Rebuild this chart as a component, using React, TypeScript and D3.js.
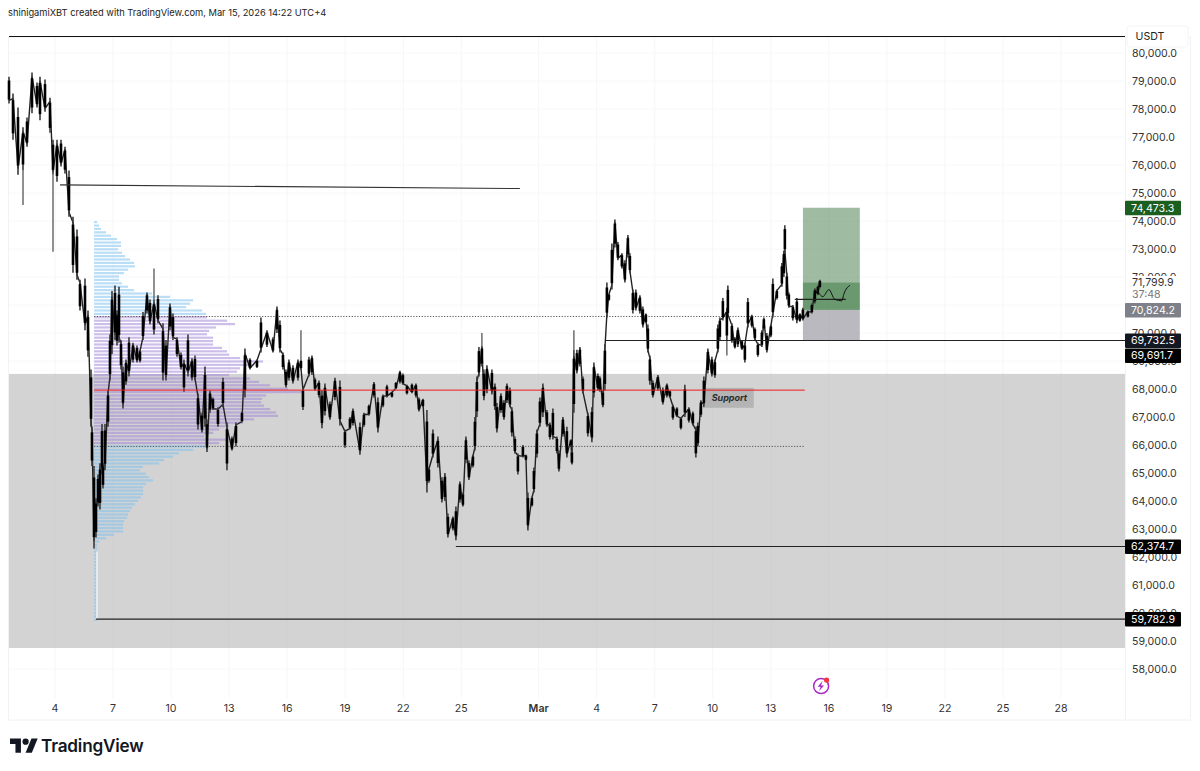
import React from "react";
import * as d3 from "d3";

// Prices are in thousands of USDT. Time is in days from Feb 4, 2026.
const priceTicks = [80,79,78,77,76,75,74,73,72,71,70,69,68,67,66,65,64,63,62,61,60,59,58];
const dayTicks = [0,3,6,9,12,15,18,21,25,28,31,34,37,40,43,46,49,52];
const dayLabels = ["4","7","10","13","16","19","22","25","Mar","4","7","10","13","16","19","22","25","28"];

const barsPerDay = 19.35;
const firstTickBar = 46;

const candleBars = [
  0,4,9,14,18,23,28,31,36,41,
  44,48,52,56,60,64,68,71,76,79,
  82,83,85,87,89,91,93,94,96,99,
  101,103,106,108,110,112,114,117,120,124,
  128,131,134,138,141,145,149,154,157,161,
  164,168,172,175,179,183,186,189,193,196,
  198,201,204,209,214,218,223,227,233,236,
  241,248,252,258,264,268,271,274,277,280,
  284,289,292,294,300,303,306,310,313,316,
  321,326,331,336,341,344,351,355,360,365,
  369,374,378,383,387,391,394,398,403,407,
  410,414,418,420,424,429,433,436,439,444,
  447,451,454,457,460,464,466,468,470,473,
  475,478,483,486,488,492,495,498,501,503,
  506,509,514,517,519,523,525,528,531,534,
  538,541,544,548,550,554,558,562,563,565,
  568,571,574,579,583,585,589,591,594,596,
  598,600,603,606,609,613,616,619,621,624,
  627,631,634,637,639,641,644,649,654,658,
  661,664,668,672,676,680,684,687,689,692,
  695,699,703,706,709,711,714,718,719,723,
  726,729,733,736,739,743,746,749,753,755,
  758,762,764,768,773,775,776,778,780,784,
  788,791,794,799,803,806,809,811,
];
const candleHighs = [
  79.15,78.55,78.05,77.35,77.7,79.3,78.95,79.15,79.05,78.4,
  76.9,76.9,76.9,76.65,75.8,74.15,73.7,71.9,71.95,70.8,
  68.7,66.65,65.25,64.1,64.95,65.35,66.75,65.35,66.75,67.95,
  69.95,71.5,71.7,70.8,71.65,69.75,68.8,69.05,69.85,69.65,
  69.55,69.4,70.75,71.45,71.2,71.2,71.35,70.35,69.75,71.05,
  70.7,69.85,69.3,69.05,69.95,69.1,69.2,67.85,67.15,68.8,
  66.9,67.95,67.7,67.35,68.4,66.8,66.3,66.8,67.2,69.45,
  69.1,69.05,70.55,70.1,69.85,70.95,70.45,69.3,68.7,69.05,
  68.85,69.05,69.05,68.05,69.15,69.2,68.4,68.3,67.95,68.2,
  67.55,68.4,68.3,66.55,67,67.3,66.8,67.15,67.45,68.25,
  67.7,67.8,68.15,67.9,68.25,68.65,68.55,68.15,68.2,68.2,
  67.7,67.65,67.25,65.2,66.55,66.3,64.85,65,63.55,63.45,
  63.8,64.7,64.3,66.3,65.45,65.65,67,68.45,69.5,69.55,
  68.7,68.85,68.7,68.2,67.5,67.85,67.6,68.2,68.05,67.35,
  66.3,65.7,66,65.65,64.3,64.15,65.2,66.55,67.7,68.2,
  67.25,66.8,67.3,66.3,65.8,67,66.65,66.2,65.8,69.4,
  69.4,69.5,68.45,67.15,67.35,68.95,68.55,68.45,67.95,69.6,
  71.8,71.4,73.2,74.05,73.25,72.85,72.6,73.5,72.85,71.55,
  71.55,71.35,70.95,70.7,70.3,69.2,68.3,68.5,68.05,68.2,
  67.95,67.45,67.35,67,68.15,67.35,67.2,66.65,66.8,67.6,
  68.45,69.45,69.15,69.05,70.3,70.55,71.25,70.9,71.7,70.35,
  69.85,70.2,69.75,69.65,71.25,70.65,70.2,69.65,70.1,70.55,
  70,70.3,71.95,71.55,72.5,72.95,73.85,72.15,71.45,71,
  71.25,70.7,70.9,70.8,71.05,71.6,71.7,71.9,
];
const candleLows = [
  78.2,76.9,75.65,75.8,76.65,77.85,78.05,77.6,77.9,77.15,
  75.65,75.4,75.95,75.7,74.15,72.15,71.9,70.8,70.1,69.15,
  66.65,65.25,62.3,62.7,63.8,63.7,64.95,64.45,65.1,66.65,
  68.3,69.25,69.75,69.55,69.65,68.7,67.3,68.15,68.45,68.95,
  68.95,68.95,69.75,70.7,70.3,69.95,70.35,68.3,68.3,70.1,
  69.75,69.15,68.7,67.9,68.45,68.3,68.3,66.55,66.45,66.65,
  65.75,67.15,67.25,66.65,67.35,65.1,65.8,65.95,66.8,67.7,
  68.7,68.75,69.3,69.5,69.3,70,69.3,68.7,68.05,68.3,
  68.2,68.3,68.7,67.25,68.45,68.5,67.95,67.7,66.6,67.05,
  66.9,67.6,66.7,65.9,66.55,66.7,65.65,66.65,67.05,67.7,
  66.45,67.35,67.7,67.7,68,68.2,68.15,67.8,67.85,67.7,
  67.2,67.35,64.3,64.65,65.55,65.2,63.95,64,62.7,62.95,
  62.6,63.95,63.8,65.35,64.75,65.2,65.8,67,68.45,68.8,
  67.6,67.85,67.8,67.25,66.45,67.15,66.9,67.5,67.35,66.3,
  65.7,64.95,65.55,65.45,62.95,63.8,64.3,65.55,66.65,67,
  66.65,66.2,66.2,65.7,65.05,66.3,65.55,65.95,65.3,67.15,
  68.55,68.8,67.85,66.3,66.1,67.7,67.95,67.9,67.35,67.95,
  70.55,71.15,71.55,73.05,72.6,72.3,71.8,72.7,72.15,70.7,
  70.8,70.7,70.2,70.35,69.3,68.15,67.7,67.95,67.45,67.7,
  67.7,66.9,67,66.55,67,66.8,66.7,65.55,65.95,67,
  67.35,68.55,68.45,68.4,69.3,69.75,70.45,69.75,70.55,69.65,
  69.45,69.5,69.4,68.95,70.2,70.2,69.75,69.15,69.5,70.1,
  69.3,69.85,70.55,71.2,71.65,72,72.85,71.2,70.9,70.45,
  70.35,70.4,70.45,70.55,70.7,71.05,71.35,71.6,
];

const spikeBars = [14,44,145,292,473,565,718];
const spikeHighs = [75.8,75.65,72.3,70.1,70,70.1,69.75];
const spikeLows = [74.57,72.9,71.2,69.05,69.55,69.4,69.2];

const profileTop = 73.96;
const profileStep = 0.1214;
const profileVolumes = [3,5,7,12,17,23,27,27,24,28,31,36,40,41,34,30,25,25,28,34,40,58,76,99,96,92,108,112,113,133,141,122,115,113,119,119,119,128,133,135,146,169,160,146,143,135,156,165,176,194,209,172,168,167,170,176,182,184,160,149,135,125,119,110,133,125,111,99,85,79,70,65,49,46,52,55,59,52,49,49,49,47,44,41,38,36,34,33,30,29,29,29,20,12,5,3,3,3,3,3,3,3,3,3,3,3,3,3,3,3,3,3,3,3,3,3,3,3];
const valueAreaHigh = 70.59;
const pointOfControl = 67.96;
const valueAreaLow = 65.95;

const forecastDays = [39.38,39.69,40,40.31,40.67,40.78,41.09];
const forecastPrices = [71.55,71.3,71.55,71.2,71.15,71.4,71.7];

const zoneTop = 68.54;
const zoneBottom = 58.75;
const targetPrice = 74.4733;
const lastPrice = 71.7999;
const entryPrice = 70.8242;
const stopPrice = 69.7325;

const axisTags = [
  { price: 74.4733, text: "74,473.3", fill: "#1b5e20", ink: "#ffffff" },
  { price: 70.8242, text: "70,824.2", fill: "#7f818a", ink: "#ffffff" },
  { price: 69.7325, text: "69,732.5", fill: "#131722", ink: "#ffffff" },
  { price: 69.2, text: "69,691.7", fill: "#000000", ink: "#ffffff" },
  { price: 62.3747, text: "62,374.7", fill: "#000000", ink: "#ffffff" },
  { price: 59.7829, text: "59,782.9", fill: "#000000", ink: "#ffffff" },
];

const FONT = "Inter, 'Noto Sans', sans-serif";
const W = 1200;
const H = 771;
const LEFT = 9;
const RIGHT = 1125;

export default function App() {
  const x = d3.scaleLinear().domain([0, 52]).range([55, 1061]);
  const y = d3.scaleLinear().domain([79, 58]).range([81, 669]);
  const xBar = (b: number) => x((b - firstTickBar) / barsPerDay);
  const rowH = 2.2;
  const pLeft = x(2.02);
  const pocRight = x(38.76);

  // Path that runs through the candles, alternating the upper and lower part of each range.
  const zig = candleBars.map((b, i) => {
    const r = candleHighs[i] - candleLows[i];
    return { b, p: i % 2 === 0 ? candleLows[i] + r * 0.1 : candleHighs[i] - r * 0.1 };
  });
  const zigLine = d3.line<any>().x((d) => xBar(d.b)).y((d) => y(d.p));

  const fcLine = d3.line<number>()
    .x((d) => x(d))
    .y((_, i) => y(forecastPrices[i]))
    .curve(d3.curveMonotoneX);

  const posL = x(38.66);
  const posR = x(41.6);
  const icx = x(39.6);
  const icy = y(57.39);

  return (
    <svg width={W} height={H} style={{ position: "absolute", left: 0, top: 0, background: "#fff" }} fontFamily={FONT}>
      <text x={8} y={16} fontSize={9.3} fill="#222">shinigamiXBT created with TradingView.com, Mar 15, 2026 14:22 UTC+4</text>

      {/* frame */}
      <rect x={8.5} y={37} width={1182} height={683} fill="none" stroke="#f0f2f6" />
      <line x1={RIGHT + 0.5} x2={RIGHT + 0.5} y1={37} y2={720} stroke="#f0f2f6" />

      {/* grid */}
      {priceTicks.map((p) => (
        <line key={p} x1={LEFT} x2={RIGHT} y1={y(p)} y2={y(p)} stroke="#f7f8fa" />
      ))}
      {dayTicks.map((d) => (
        <line key={d} x1={x(d)} x2={x(d)} y1={37} y2={698} stroke="#f5f6f9" />
      ))}

      {/* grey zone */}
      <rect x={LEFT} y={y(zoneTop)} width={RIGHT - LEFT} height={y(zoneBottom) - y(zoneTop)} fill="#d3d3d3" />
      {dayTicks.map((d) => (
        <line key={"z" + d} x1={x(d)} x2={x(d)} y1={y(zoneTop)} y2={y(zoneBottom)} stroke="#d0d0d0" />
      ))}

      {/* top line */}
      <line x1={LEFT} x2={RIGHT} y1={36.5} y2={36.5} stroke="#111" strokeWidth={1} />

      {/* volume profile */}
      {profileVolumes.map((v, i) => {
        const price = profileTop - i * profileStep;
        const inVA = price <= valueAreaHigh && price >= valueAreaLow;
        return (
          <rect key={i} x={pLeft} y={y(price) - rowH / 2} width={v} height={rowH}
            fill={inVA ? "#a084d4" : "#7cc0f0"} fillOpacity={0.52} />
        );
      })}

      {/* position tool */}
      <rect x={posL} y={y(targetPrice)} width={posR - posL} height={y(entryPrice) - y(targetPrice)} fill="#3f7a45" fillOpacity={0.5} />
      <rect x={posL} y={y(lastPrice)} width={posR - posL} height={y(entryPrice) - y(lastPrice)} fill="#14611c" fillOpacity={0.38} />
      <rect x={posL} y={y(entryPrice)} width={posR - posL} height={y(stopPrice) - y(entryPrice)} fill="#8e8e98" fillOpacity={0.62} />

      {/* support box */}
      <rect x={x(33.6)} y={y(68.04)} width={x(36.12) - x(33.6)} height={y(67.33) - y(68.04)} fill="#9a9a9a" fillOpacity={0.55} />
      <text x={(x(33.6) + x(36.12)) / 2} y={401} textAnchor="middle" fontSize={9} fontWeight={700} fontStyle="italic" fill="#2b2b2b">Support</text>

      {/* dotted lines */}
      <line x1={pLeft} x2={pocRight} y1={y(valueAreaHigh)} y2={y(valueAreaHigh)} stroke="#555" strokeDasharray="1.2 1.6" />
      <line x1={pLeft} x2={pocRight} y1={y(valueAreaLow)} y2={y(valueAreaLow)} stroke="#555" strokeDasharray="1.2 1.6" />

      {/* candles */}
      {spikeBars.map((b, i) => (
        <line key={b} x1={xBar(b)} x2={xBar(b)} y1={y(spikeHighs[i])} y2={y(spikeLows[i])} stroke="#555" strokeWidth={1.3} />
      ))}
      <path d={zigLine(zig) || ""} fill="none" stroke="#222" strokeWidth={1.4} strokeLinejoin="round" />
      {candleBars.map((b, i) => (
        <line key={"w" + i} x1={xBar(b)} x2={xBar(b)} y1={y(candleHighs[i])} y2={y(candleLows[i])} stroke="#3a3a3a" strokeWidth={1.6} />
      ))}
      {candleBars.map((b, i) => {
        const r = candleHighs[i] - candleLows[i];
        return (
          <line key={"b" + i} x1={xBar(b)} x2={xBar(b)} y1={y(candleHighs[i] - r * 0.14)} y2={y(candleLows[i] + r * 0.14)} stroke="#000" strokeWidth={2.6} />
        );
      })}

      {/* crash wick */}
      <line x1={x(2.17)} x2={x(2.17)} y1={y(62.2)} y2={y(59.7829)} stroke="#f4f6f8" strokeWidth={1.4} />

      <line x1={pLeft} x2={pocRight} y1={y(pointOfControl)} y2={y(pointOfControl)} stroke="#f01a1a" strokeWidth={1} />

      {/* drawings */}
      <line x1={x(0.26)} x2={x(24.03)} y1={y(75.29)} y2={y(75.16)} stroke="#333" strokeWidth={1.1} />
      <line x1={x(28.48)} x2={RIGHT} y1={y(stopPrice)} y2={y(stopPrice)} stroke="#222" strokeWidth={1.2} />
      <line x1={x(20.72)} x2={RIGHT} y1={y(62.3747)} y2={y(62.3747)} stroke="#222" strokeWidth={1.2} />
      <line x1={x(2.12)} x2={RIGHT} y1={y(59.7829)} y2={y(59.7829)} stroke="#222" strokeWidth={1.2} />
      <line x1={x(38.24)} x2={x(40.88)} y1={y(71.2)} y2={y(71.2)} stroke="#222" strokeWidth={1.1} />
      <path d={fcLine(forecastDays) || ""} fill="none" stroke="#111" strokeWidth={1} />

      {/* lightning icon */}
      <g>
        <circle cx={icx} cy={icy} r={7.5} fill="#fff" stroke="#a82cc4" strokeWidth={1.5} />
        <path d={`M${icx + 1.5} ${icy - 5}l-5 5.6h3l-1.5 4.4l5 -5.6h-3z`} fill="#a82cc4" />
        <circle cx={icx + 5.5} cy={icy - 6} r={2.6} fill="#f23645" />
      </g>

      {/* price axis */}
      {priceTicks.map((p) => (
        <text key={p} x={1132} y={y(p) + 3.8} fontSize={10.6} fill="#333">{d3.format(",.1f")(p * 1000)}</text>
      ))}

      {/* usdt box */}
      <rect x={1127} y={26} width={61} height={21} rx={3} fill="#fff" stroke="#f3f4f7" />
      <text x={1135.5} y={40} fontSize={10.6} fill="#222">USDT</text>

      {/* last price block */}
      <rect x={RIGHT + 1} y={276} width={56} height={27} fill="#fff" />
      <text x={1132} y={y(lastPrice) + 3.8} fontSize={10.6} fill="#333">71,799.9</text>
      <text x={1132} y={298} fontSize={10.6} fill="#777">37:48</text>

      {axisTags.map((t) => (
        <g key={t.text}>
          <rect x={RIGHT} y={y(t.price) - 7} width={56} height={14.5} rx={1} fill={t.fill} />
          <text x={1131} y={y(t.price) + 3.9} fontSize={10.6} fill={t.ink}>{t.text}</text>
        </g>
      ))}

      {/* time axis */}
      {dayTicks.map((d, i) => (
        <text key={d} x={x(d)} y={712} textAnchor="middle" fontSize={10.6}
          fontWeight={dayLabels[i] === "Mar" ? 600 : 400} fill="#333">{dayLabels[i]}</text>
      ))}

      {/* logo */}
      <g transform="translate(10,735.5) scale(0.78)" fill="#131722">
        <path d="M14 22H7V11H0V4h14v18z" />
        <path d="M28 22h-8l7.5-18h8L28 22z" />
        <circle cx="20" cy="8" r="4" />
      </g>
      <text x={41} y={752} fontSize={17.2} fontWeight={600} fill="#131722" letterSpacing={-0.2}>TradingView</text>
    </svg>
  );
}
